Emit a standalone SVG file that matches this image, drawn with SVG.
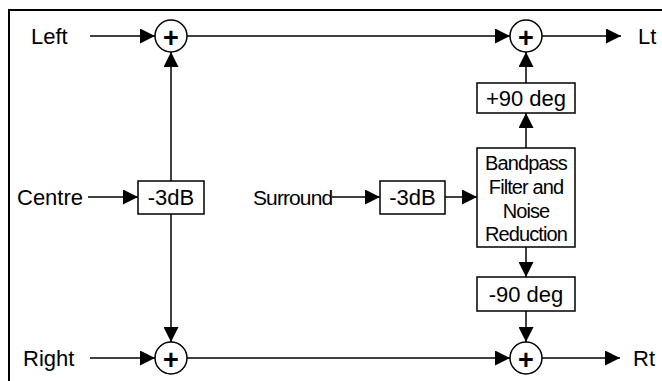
<svg xmlns="http://www.w3.org/2000/svg" width="662" height="381" viewBox="0 0 662 381">
<style>
text{font-family:"Liberation Sans",Arial,sans-serif;font-size:22px;fill:#000}
.c{text-anchor:middle}
.n{font-size:20px;letter-spacing:-0.9px;text-anchor:middle}
.s{font-size:21px;letter-spacing:-0.9px}
.p{font-size:27px;font-weight:bold;text-anchor:middle}
.box{fill:#fff;stroke:#000;stroke-width:1.5}
.sum{fill:#fff;stroke:#000;stroke-width:1.5}
#connectors path{fill:none;stroke:#000;stroke-width:1.5;marker-end:url(#a)}
</style>
<defs>
<marker id="a" markerWidth="15" markerHeight="15" refX="15" refY="7.5" orient="auto" markerUnits="userSpaceOnUse">
<path d="M0,0 L15,7.5 L0,15 z" fill="#000"/>
</marker>
</defs>
<rect width="662" height="381" fill="#fff"/>
<path d="M9,381 V10 H662" fill="none" stroke="#000" stroke-width="2"/>
<g id="connectors">
<path d="M90,36 H155"/>
<path d="M187,36 H510"/>
<path d="M542,36 H621"/>
<path d="M90,358 H155"/>
<path d="M187,358 H510"/>
<path d="M542,358 H620"/>
<path d="M88,197 H138"/>
<path d="M171,181 V52"/>
<path d="M171,214 V342"/>
<path d="M332,197 H380"/>
<path d="M445,197 H477"/>
<path d="M526,148 V113"/>
<path d="M526,83 V52"/>
<path d="M526,247 V277"/>
<path d="M526,311 V342"/>
</g>
<g id="left-label"><text x="31" y="44">Left</text></g>
<g id="right-label"><text x="23" y="366">Right</text></g>
<g id="centre-label"><text x="17" y="205">Centre</text></g>
<g id="surround-label"><text class="s" x="253" y="205">Surround</text></g>
<g id="lt-label"><text x="638" y="44">Lt</text></g>
<g id="rt-label"><text x="633" y="366">Rt</text></g>
<g id="sum-left-top"><circle class="sum" cx="171" cy="36" r="16"/><text class="p" x="171" y="47">+</text></g>
<g id="sum-right-top"><circle class="sum" cx="526" cy="36" r="16"/><text class="p" x="526" y="47">+</text></g>
<g id="sum-left-bottom"><circle class="sum" cx="171" cy="358" r="16"/><text class="p" x="171" y="369">+</text></g>
<g id="sum-right-bottom"><circle class="sum" cx="526" cy="358" r="16"/><text class="p" x="526" y="369">+</text></g>
<g id="centre-atten"><rect class="box" x="138" y="181" width="66" height="33"/><text class="c" x="171" y="205">-3dB</text></g>
<g id="surround-atten"><rect class="box" x="380" y="181" width="65" height="33"/><text class="c" x="412.5" y="205">-3dB</text></g>
<g id="bandpass"><rect class="box" x="477" y="148" width="98" height="99"/>
<text class="n" x="526" y="170">Bandpass</text>
<text class="n" x="526" y="194">Filter and</text>
<text class="n" x="526" y="218">Noise</text>
<text class="n" x="526" y="241">Reduction</text></g>
<g id="plus90"><rect class="box" x="477" y="83" width="98" height="30"/><text class="c" x="526" y="106">+90 deg</text></g>
<g id="minus90"><rect class="box" x="477" y="277" width="98" height="34"/><text class="c" x="526" y="302">-90 deg</text></g>
</svg>
